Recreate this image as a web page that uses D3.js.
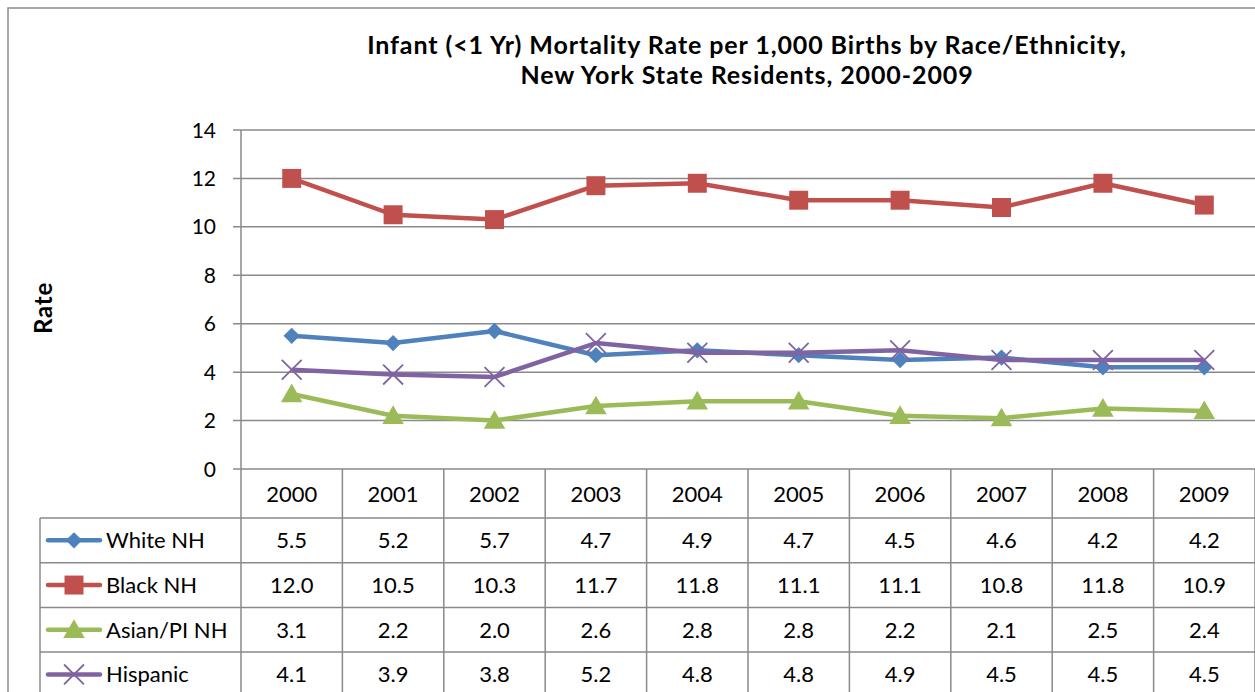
<!DOCTYPE html>
<html>
<head>
<meta charset="utf-8">
<script src="https://cdn.jsdelivr.net/npm/d3@7"></script>
<style>
  body { margin: 0; background: #fff; }
  svg { display: block; font-family: Lato, "Open Sans", sans-serif; }
</style>
</head>
<body>
<div id="chart"></div>
<script>
const years = ["2000", "2001", "2002", "2003", "2004", "2005", "2006", "2007", "2008", "2009"];
const seriesNames = ["White NH", "Black NH", "Asian/PI NH", "Hispanic"];
const whiteNH = [5.5, 5.2, 5.7, 4.7, 4.9, 4.7, 4.5, 4.6, 4.2, 4.2];
const blackNH = [12.0, 10.5, 10.3, 11.7, 11.8, 11.1, 11.1, 10.8, 11.8, 10.9];
const asianNH = [3.1, 2.2, 2.0, 2.6, 2.8, 2.8, 2.2, 2.1, 2.5, 2.4];
const hispanic = [4.1, 3.9, 3.8, 5.2, 4.8, 4.8, 4.9, 4.5, 4.5, 4.5];
const yTicks = [0, 2, 4, 6, 8, 10, 12, 14];

const colors = ["#4F81BD", "#C0504D", "#9BBB59", "#8064A2"];
const symbols = ["diamond", "square", "triangle", "x"];
const series = seriesNames.map((name, i) => ({
    name: name,
    values: [whiteNH, blackNH, asianNH, hispanic][i],
    color: colors[i],
    symbol: symbols[i]
}));

const W = 1255, H = 692;
const gridColor = "#8a8a8a";

const svg = d3.select("#chart")
    .append("svg")
        .attr("width", W)
        .attr("height", H);

// Cadre extérieur
svg.append("rect")
    .attr("x", 8).attr("y", 8)
    .attr("width", 1400).attr("height", 900)
    .attr("fill", "none")
    .attr("stroke", gridColor)
    .attr("stroke-width", 1.5);

const x = d3.scaleBand()
    .domain(years)
    .range([241, 1255]);

const y = d3.scaleLinear()
    .domain([0, 14])
    .range([469, 130]);

// Titre
const title = svg.append("text")
    .attr("text-anchor", "middle")
    .style("font-size", "25px")
    .style("font-weight", "bold")
    .style("letter-spacing", "0.9px")
    .attr("fill", "#000");
title.append("tspan").attr("x", 747).attr("y", 54)
    .text("Infant (<1 Yr) Mortality Rate per 1,000 Births by Race/Ethnicity,");
title.append("tspan").attr("x", 747).attr("y", 84)
    .text("New York State Residents, 2000-2009");

// Titre axe Y
svg.append("text")
    .attr("transform", "translate(52, 308) rotate(-90)")
    .attr("text-anchor", "middle")
    .style("font-size", "24px")
    .style("font-weight", "bold")
    .style("letter-spacing", "0.8px")
    .text("Rate");

// Grille horizontale
svg.append("g")
    .selectAll("line")
    .data(yTicks)
    .enter()
    .append("line")
        .attr("x1", 233).attr("x2", 1255)
        .attr("y1", d => y(d)).attr("y2", d => y(d))
        .attr("stroke", gridColor)
        .attr("stroke-width", 1.5);

// Étiquettes axe Y
svg.append("g")
    .selectAll("text")
    .data(yTicks)
    .enter()
    .append("text")
        .attr("x", 216)
        .attr("y", d => y(d))
        .attr("dy", "0.36em")
        .attr("text-anchor", "end")
        .style("font-size", "21px")
        .text(d => d);

// Axe vertical
svg.append("line")
    .attr("x1", 241).attr("x2", 241)
    .attr("y1", 130).attr("y2", H)
    .attr("stroke", gridColor)
    .attr("stroke-width", 1.5);

// Table de données
const headerBottom = 518;
const rowY = d3.scaleBand()
    .domain(seriesNames)
    .range([headerBottom, headerBottom + 4 * 44.7]);

const table = svg.append("g");

// séparateurs verticaux des années
table.selectAll(".vsep")
    .data(years)
    .enter()
    .append("line")
        .attr("x1", d => x(d) + x.bandwidth())
        .attr("x2", d => x(d) + x.bandwidth())
        .attr("y1", 469).attr("y2", H)
        .attr("stroke", gridColor)
        .attr("stroke-width", 1.5);

// bord gauche de la légende
table.append("line")
    .attr("x1", 40).attr("x2", 40)
    .attr("y1", headerBottom).attr("y2", H)
    .attr("stroke", gridColor)
    .attr("stroke-width", 1.5);

// lignes horizontales
table.selectAll(".hsep")
    .data(seriesNames)
    .enter()
    .append("line")
        .attr("x1", 40).attr("x2", 1255)
        .attr("y1", d => rowY(d)).attr("y2", d => rowY(d))
        .attr("stroke", gridColor)
        .attr("stroke-width", 1.5);

// en-têtes années
table.selectAll(".year")
    .data(years)
    .enter()
    .append("text")
        .attr("x", d => x(d) + x.bandwidth() / 2)
        .attr("y", 494)
        .attr("dy", "0.36em")
        .attr("text-anchor", "middle")
        .style("font-size", "22px")
        .text(d => d);

function markerPath(sym) {
    if (sym === "diamond") return d3.symbol(d3.symbolDiamond2, 170)();
    if (sym === "square") return d3.symbol(d3.symbolSquare, 360)();
    if (sym === "triangle") return d3.symbol(d3.symbolTriangle, 200)();
    return d3.symbol(d3.symbolTimes, 260)();
}

function styleMarker(sel, s) {
    if (s.symbol === "x") {
        sel.attr("fill", "none").attr("stroke", s.color).attr("stroke-width", 1.8);
    } else {
        sel.attr("fill", s.color).attr("stroke", "none");
    }
}

// lignes de séries et lignes de la table
series.forEach(function(s) {
    const rowMid = rowY(s.name) + rowY.bandwidth() / 2;

    // clé de légende
    table.append("line")
        .attr("x1", 48).attr("x2", 100)
        .attr("y1", rowMid).attr("y2", rowMid)
        .attr("stroke", s.color)
        .attr("stroke-width", 4.5)
        .attr("stroke-linecap", "round");
    table.append("path")
        .attr("d", markerPath(s.symbol))
        .attr("transform", `translate(74, ${rowMid})${s.symbol === "triangle" ? " translate(0,2)" : ""}`)
        .call(styleMarker, s);

    table.append("text")
        .attr("x", 106)
        .attr("y", rowMid)
        .attr("dy", "0.36em")
        .style("font-size", "22px")
        .text(s.name);

    table.selectAll(null)
        .data(s.values)
        .enter()
        .append("text")
            .attr("x", (d, i) => x(years[i]) + x.bandwidth() / 2)
            .attr("y", rowMid)
            .attr("dy", "0.36em")
            .attr("text-anchor", "middle")
            .style("font-size", "22px")
            .text(d => d.toFixed(1));

    const line = d3.line()
        .x((d, i) => x(years[i]) + x.bandwidth() / 2)
        .y(d => y(d));

    svg.append("path")
        .datum(s.values)
        .attr("d", line)
        .attr("fill", "none")
        .attr("stroke", s.color)
        .attr("stroke-width", 4.5)
        .attr("stroke-linejoin", "round");

    svg.append("g")
        .selectAll("path")
        .data(s.values)
        .enter()
        .append("path")
            .attr("d", markerPath(s.symbol))
            .attr("transform", (d, i) => `translate(${x(years[i]) + x.bandwidth() / 2}, ${y(d) + (s.symbol === "triangle" ? 2 : 0)})`)
            .call(styleMarker, s);
});
</script>
</body>
</html>
